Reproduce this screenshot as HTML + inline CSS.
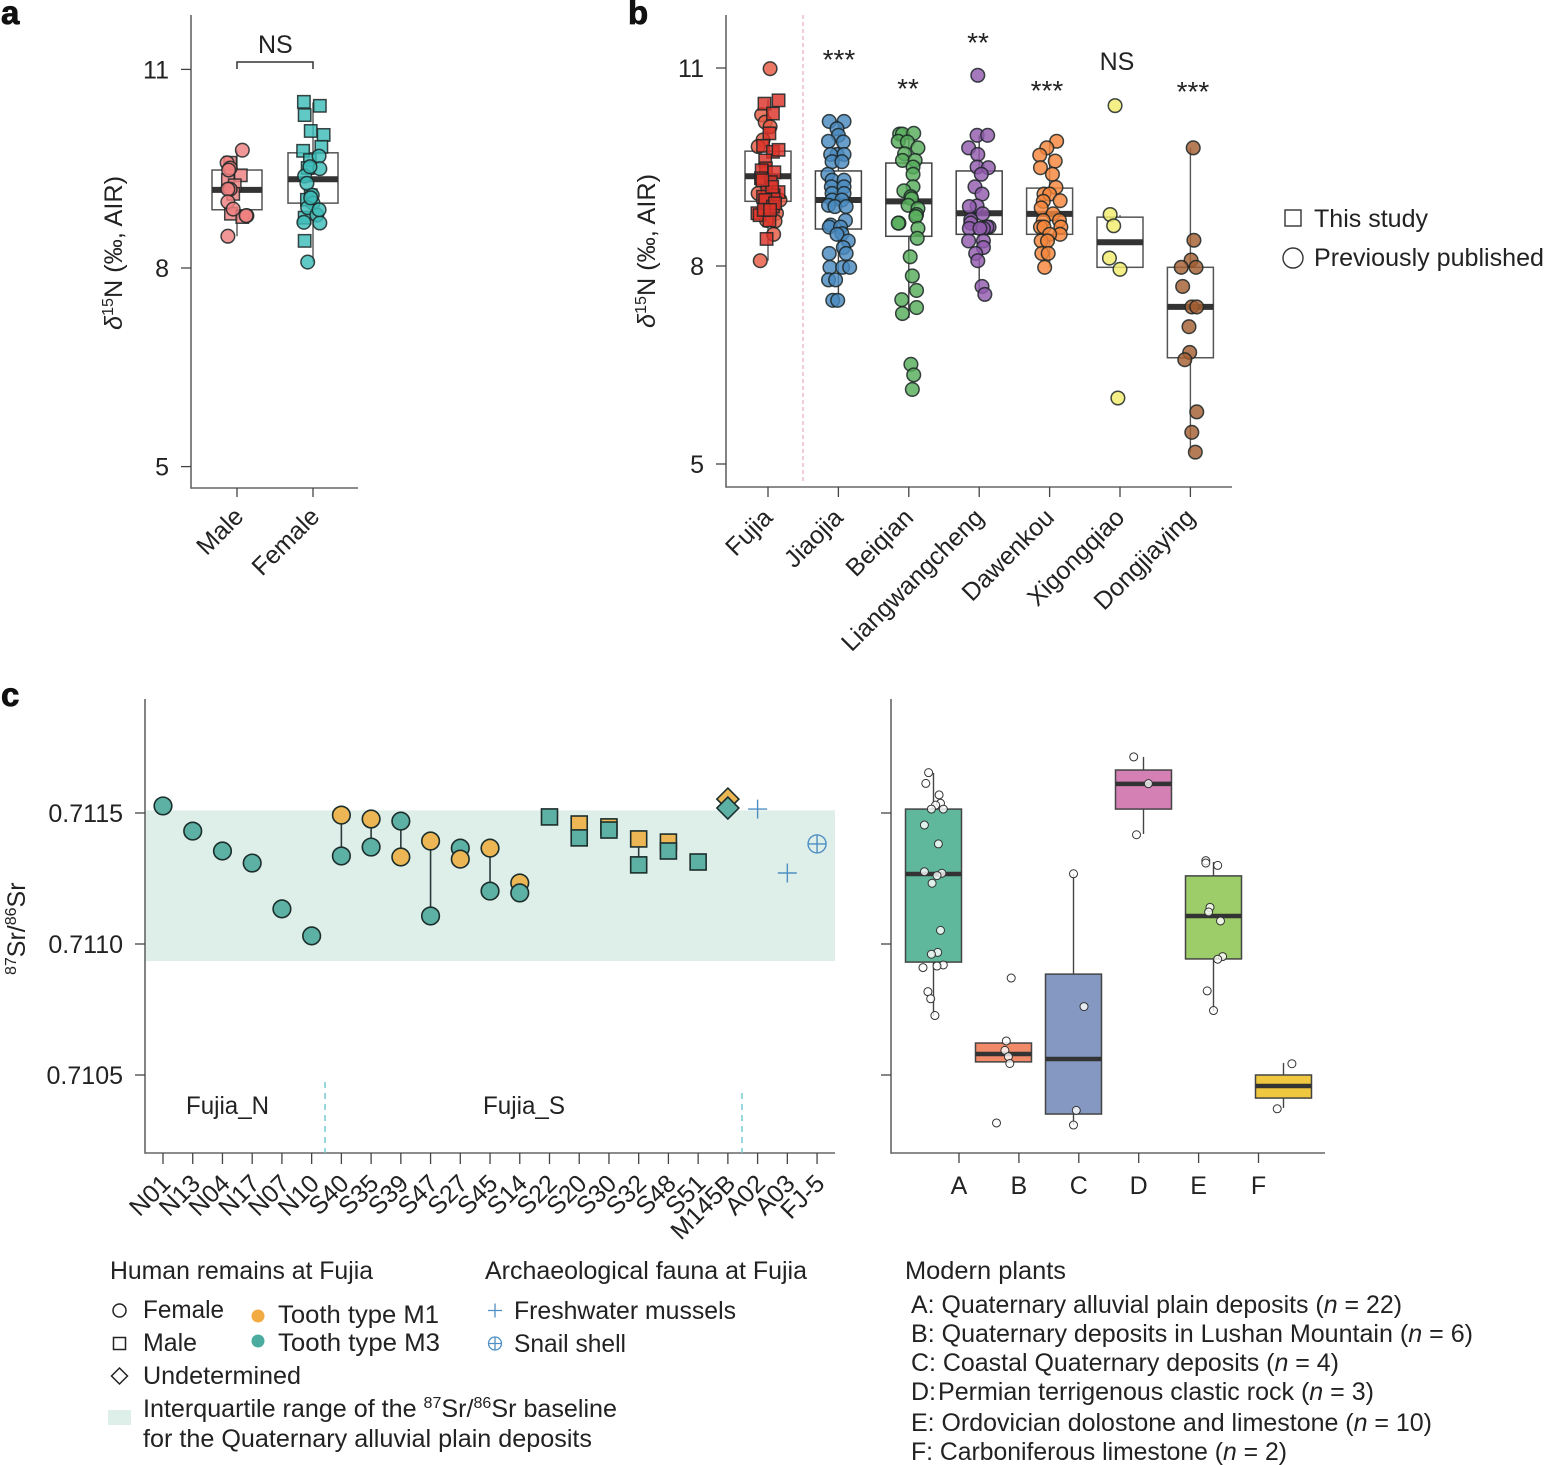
<!DOCTYPE html>
<html lang="en">
<head>
<meta charset="utf-8">
<title>Isotope chart figure</title>
<style>
html,body{margin:0;padding:0;background:#fff;}
svg{display:block;}
text{font-family:"Liberation Sans",sans-serif;font-size:25px;fill:#222;}
.bold{font-weight:bold;font-size:33px;fill:#111;stroke:#111;stroke-width:.8px;}
.stars{font-size:28px;}
</style>
</head>
<body>
<svg id="figure" xmlns="http://www.w3.org/2000/svg" width="1544" height="1465" viewBox="0 0 1544 1465">
  <text class="bold" x="1" y="24">a</text>
  <text class="bold" x="628" y="24">b</text>
  <text class="bold" x="1" y="706">c</text>

  <g id="panel-a"></g>
  <g id="panel-b"></g>
  <g id="panel-c"></g>
  <g id="panel-d"></g>

  <text transform="translate(122,330) rotate(-90)" textLength="154" lengthAdjust="spacingAndGlyphs"><tspan font-style="italic">δ</tspan><tspan font-size="16" dy="-9">15</tspan><tspan dy="9">N (‰, AIR)</tspan></text>
  <text transform="translate(655,328) rotate(-90)" textLength="154" lengthAdjust="spacingAndGlyphs"><tspan font-style="italic">δ</tspan><tspan font-size="16" dy="-9">15</tspan><tspan dy="9">N (‰, AIR)</tspan></text>
  <text transform="translate(25,975) rotate(-90)"><tspan font-size="16" dy="-9">87</tspan><tspan dy="9">Sr/</tspan><tspan font-size="16" dy="-9">86</tspan><tspan dy="9">Sr</tspan></text>

  <text x="258" y="53">NS</text>
  <path d="M237 69V62H313V69" fill="none" stroke="#333" stroke-width="1.5"/>

  <text class="stars" x="839" y="69" text-anchor="middle">***</text>
  <text class="stars" x="908" y="98" text-anchor="middle">**</text>
  <text class="stars" x="978" y="52" text-anchor="middle">**</text>
  <text class="stars" x="1047" y="100" text-anchor="middle">***</text>
  <text x="1117" y="70" text-anchor="middle">NS</text>
  <text class="stars" x="1193" y="101" text-anchor="middle">***</text>

  <rect x="1285" y="210" width="16" height="16" fill="#fff" stroke="#333" stroke-width="1.4"/>
  <text x="1314" y="227" textLength="114" lengthAdjust="spacingAndGlyphs">This study</text>
  <circle cx="1293" cy="258" r="10" fill="#fff" stroke="#333" stroke-width="1.4"/>
  <text x="1314" y="266" textLength="230" lengthAdjust="spacingAndGlyphs">Previously published</text>

  <g>
    <text x="110" y="1279" textLength="263" lengthAdjust="spacingAndGlyphs">Human remains at Fujia</text>
    <circle cx="119.500" cy="1310.500" r="6.500" fill="#fff" stroke="#222" stroke-width="1.500"/>
    <text x="143" y="1318" textLength="81" lengthAdjust="spacingAndGlyphs">Female</text>
    <rect x="113.500" y="1337.500" width="12" height="12" fill="#fff" stroke="#222" stroke-width="1.500"/>
    <text x="143" y="1351" textLength="54" lengthAdjust="spacingAndGlyphs">Male</text>
    <path d="M119.500 1368L127.500 1376L119.500 1384L111.500 1376Z" fill="#fff" stroke="#222" stroke-width="1.500"/>
    <text x="143" y="1384" textLength="158" lengthAdjust="spacingAndGlyphs">Undetermined</text>
    <circle cx="258" cy="1316" r="6.500" fill="#f2ab42"/>
    <text x="278" y="1323" textLength="161" lengthAdjust="spacingAndGlyphs">Tooth type M1</text>
    <circle cx="258" cy="1341" r="6.500" fill="#4cab9f"/>
    <text x="278" y="1351" textLength="162" lengthAdjust="spacingAndGlyphs">Tooth type M3</text>
    <rect x="108" y="1410" width="23" height="15" fill="#deeee8"/>
    <text x="143" y="1417" textLength="474" lengthAdjust="spacingAndGlyphs">Interquartile range of the <tspan font-size="16" dy="-9">87</tspan><tspan dy="9">Sr/</tspan><tspan font-size="16" dy="-9">86</tspan><tspan dy="9">Sr baseline</tspan></text>
    <text x="143" y="1447" textLength="449" lengthAdjust="spacingAndGlyphs">for the Quaternary alluvial plain deposits</text>
  </g>

  <g>
    <text x="485" y="1279" textLength="322" lengthAdjust="spacingAndGlyphs">Archaeological fauna at Fujia</text>
    <path d="M488 1310.500H502M495 1303.500V1317.500" stroke="#4f8fc4" stroke-width="1.300" fill="none"/>
    <text x="514" y="1319" textLength="222" lengthAdjust="spacingAndGlyphs">Freshwater mussels</text>
    <path d="M488 1343.500H502M495 1336.500V1350.500" stroke="#4f8fc4" stroke-width="1.300" fill="none"/>
    <circle cx="495" cy="1343.500" r="6.500" fill="none" stroke="#4f8fc4" stroke-width="1.300"/>
    <text x="514" y="1352" textLength="112" lengthAdjust="spacingAndGlyphs">Snail shell</text>
  </g>

  <g>
    <text x="905" y="1279" textLength="161" lengthAdjust="spacingAndGlyphs">Modern plants</text>
    <text x="911" y="1313" textLength="491" lengthAdjust="spacingAndGlyphs">A: Quaternary alluvial plain deposits (<tspan font-style="italic">n</tspan> = 22)</text>
    <text x="911" y="1342" textLength="562" lengthAdjust="spacingAndGlyphs">B: Quaternary deposits in Lushan Mountain (<tspan font-style="italic">n</tspan> = 6)</text>
    <text x="911" y="1371" textLength="428" lengthAdjust="spacingAndGlyphs">C: Coastal Quaternary deposits (<tspan font-style="italic">n</tspan> = 4)</text>
    <text x="911" y="1400">D:</text>
    <text x="938" y="1400" textLength="436" lengthAdjust="spacingAndGlyphs">Permian terrigenous clastic rock (<tspan font-style="italic">n</tspan> = 3)</text>
    <text x="911" y="1431" textLength="521" lengthAdjust="spacingAndGlyphs">E: Ordovician dolostone and limestone (<tspan font-style="italic">n</tspan> = 10)</text>
    <text x="911" y="1460" textLength="376" lengthAdjust="spacingAndGlyphs">F: Carboniferous limestone (<tspan font-style="italic">n</tspan> = 2)</text>
  </g>
</svg>

<script>
// ---------- Panel a data ----------
const sexCategories = ['Male', 'Female'];
const sexTicks = [5, 8, 11];
const maleBox = [8.48, 8.88, 9.18, 9.48, 9.78];
const femaleBox = [8.09, 8.98, 9.34, 9.74, 10.5];
const maleCircleValues = [9.78, 9.59, 9.51, 9.48, 9.19, 9.19, 9.00, 8.89, 8.79, 8.79, 8.48];
const maleCircleJitter = [.07, -.13, -.09, -.11, -.09, -.12, -.12, -.05, .13, .12, -.12];
const maleSquareValues = [9.40, 9.59, 9.33, 9.25, 9.12, 8.82, 8.77];
const maleSquareJitter = [.05, -.09, -.12, -.03, -.05, -.08, .07];
const femaleSquareValues = [10.51, 10.45, 10.31, 10.07, 10.01, 9.83, 9.77, 9.63, 9.51, 9.10, 9.03, 8.76, 8.41];
const femaleSquareJitter = [-.12, .09, -.11, -.03, .14, .11, -.13, -.04, -.07, -.03, -.08, -.11, -.11];
const femaleCircleValues = [9.69, 9.50, 9.39, 9.28, 9.10, 8.98, 8.91, 8.80, 8.69, 8.68, 8.09, 9.53, 9.06, 8.88];
const femaleCircleJitter = [.08, .09, -.11, -.08, -.01, 0, -.07, .05, -.12, .09, -.07, -.04, -.03, .08];

// ---------- Panel b data ----------
const siteCategories = ['Fujia', 'Jiaojia', 'Beiqian', 'Liangwangcheng', 'Dawenkou', 'Xigongqiao', 'Dongjiaying'];
const siteTicks = [5, 8, 11];
const fujiaBox = [8.08, 8.98, 9.36, 9.74, 10.52];
const jiaojiaBox = [7.48, 8.56, 9.00, 9.44, 10.21];
const beiqianBox = [7.21, 8.45, 8.98, 9.56, 10.02];
const liangBox = [7.59, 8.48, 8.80, 9.44, 9.98];
const dawenkouBox = [7.98, 8.48, 8.79, 9.18, 9.89];
const xigongBox = [7.98, 7.98, 8.36, 8.74, 8.77];
const dongBox = [5.18, 6.61, 7.38, 7.98, 9.79];
const fujiaCircleValues = [10.99, 8.08, 10.29, 10.18, 10.11, 9.91, 9.81, 9.10, 9.00, 8.80, 8.68, 8.69, 8.48];
const fujiaCircleJitter = [.03, -.11, -.09, -.04, .03, -.07, -.14, -.14, .17, .12, .10, -.02, .08];
const fujiaSquareValues = [10.51, 10.46, 10.31, 10.01, 9.82, 9.73, 9.76, 9.60, 9.48, 9.45, 9.42, 9.33, 9.27, 9.12, 9.12, 9.07, 9.05, 9.00, 8.90, 8.80, 8.77, 8.69, 8.41, 9.2, 9.3, 8.95, 8.85, 8.85];
const fujiaSquareJitter = [.15, -.05, .07, .02, -.07, .07, .15, -.04, -.03, -.09, .09, -.10, .04, -.01, .15, .08, -.07, -.04, .07, -.15, -.12, .02, -.02, .06, -.08, .10, -.06, .03];
const jiaojiaValues = [10.19, 10.19, 10.08, 9.98, 9.89, 9.88, 9.69, 9.69, 9.69, 9.58, 9.58, 9.39, 9.30, 9.30, 9.20, 9.20, 9.10, 9.10, 9.00, 9.00, 8.92, 8.90, 8.90, 8.69, 8.62, 8.59, 8.59, 8.49, 8.48, 8.38, 8.28, 8.19, 8.19, 7.98, 7.98, 7.98, 7.79, 7.79, 7.48, 7.48];
const jiaojiaJitter = [-.13, .08, -.02, 0, -.14, .07, -.02, -.11, .08, -.09, .05, -.15, -.09, .08, -.10, .08, -.09, .08, -.09, .05, -.14, -.05, .11, .10, -.11, -.13, .03, .05, -.02, .14, .07, .11, -.13, -.12, .06, .16, -.14, -.04, -.08, -.01];
const beiqianValues = [10.00, 10.00, 10.01, 9.89, 9.88, 9.79, 9.70, 9.60, 9.60, 9.50, 9.39, 9.20, 9.14, 9.05, 9.02, 8.92, 8.87, 8.78, 8.75, 8.65, 8.65, 8.57, 8.42, 8.14, 7.85, 7.63, 7.49, 7.37, 7.28, 6.51, 6.35, 6.13];
const beiqianJitter = [-.13, -.09, .07, -.15, -.02, .13, -.06, -.09, .09, .06, .06, .06, -.07, .03, .04, -.01, .13, .11, .10, -.14, -.15, .13, .12, .02, .05, .11, -.10, .11, -.09, .03, .07, .05];
const liangValues = [10.89, 9.98, 9.98, 9.79, 9.69, 9.50, 9.49, 9.39, 9.20, 9.09, 8.91, 8.90, 8.79, 8.70, 8.65, 8.59, 8.59, 8.57, 8.57, 8.57, 8.38, 8.38, 8.28, 8.19, 8.08, 7.69, 7.57];
const liangJitter = [-.02, -.03, .12, -.15, -.02, -.03, .13, .03, -.06, .04, -.03, -.14, .05, -.12, -.12, .14, .11, -.14, .06, .01, -.15, .06, .06, -.05, -.02, .04, .08];
const dawenkouValues = [9.89, 9.79, 9.68, 9.59, 9.49, 9.39, 9.19, 9.09, 9.09, 8.99, 8.98, 8.88, 8.79, 8.69, 8.69, 8.59, 8.59, 8.59, 8.48, 8.48, 8.38, 8.38, 8.19, 8.19, 7.98];
const dawenkouJitter = [.10, -.04, -.14, .08, -.13, .04, .09, -.08, 0, .15, -.09, -.12, .05, -.09, .14, .16, -.13, -.08, .15, 0, -.12, -.03, -.11, -.02, -.07];
const xigongValues = [10.43, 8.78, 8.61, 8.12, 7.95, 6.00];
const xigongJitter = [-.07, -.14, -.09, -.15, 0, -.03];
const dongValues = [9.79, 8.39, 8.09, 7.98, 7.98, 7.69, 7.38, 7.38, 7.08, 6.69, 6.58, 5.79, 5.48, 5.18];
const dongJitter = [.04, .05, .01, -.13, .08, -.11, .02, .09, -.02, -.01, -.08, .09, .02, .07];

// ---------- Panel c data ----------
const sampleLabels = ['N01', 'N13', 'N04', 'N17', 'N07', 'N10', 'S40', 'S35', 'S39', 'S47', 'S27', 'S45', 'S14', 'S22', 'S20', 'S30', 'S32', 'S48', 'S51', 'M145B', 'A02', 'A03', 'FJ-5'];
const srTicks = [0.7105, 0.7110, 0.7115];
const srTickLabels = ['0.7105', '0.7110', '0.7115'];
const baselineRange = [0.710935, 0.71151];
const toothM1Values = [null, null, null, null, null, null, 0.711492, 0.711477, 0.711332, 0.711393, 0.711324, 0.711366, 0.711233, null, 0.711458, 0.711447, 0.711401, 0.711389, null, 0.711553, null, null, null];
const toothM3Values = [0.711527, 0.711431, 0.711355, 0.711309, 0.711134, 0.711031, 0.711336, 0.711370, 0.711469, 0.711107, 0.711366, 0.711202, 0.711195, 0.711485, 0.711405, 0.711435, 0.711302, 0.711355, 0.711313, 0.711519, null, null, null];
const sampleSex = ['f', 'f', 'f', 'f', 'f', 'f', 'f', 'f', 'f', 'f', 'f', 'f', 'f', 'm', 'm', 'm', 'm', 'm', 'm', 'u', null, null, null];
const musselValues = [null, null, null, null, null, null, null, null, null, null, null, null, null, null, null, null, null, null, null, null, 0.711515, 0.711271, null];
const snailValues = [null, null, null, null, null, null, null, null, null, null, null, null, null, null, null, null, null, null, null, null, null, null, 0.711382];

// ---------- Panel c box data ----------
const plantCategories = ['A', 'B', 'C', 'D', 'E', 'F'];
const plantABox = [0.710725, 0.710931, 0.711267, 0.711515, 0.711653];
const plantBBox = [0.71055, 0.71055, 0.71058, 0.710622, 0.710622];
const plantCBox = [0.710309, 0.710351, 0.710561, 0.710885, 0.711267];
const plantDBox = [0.71142, 0.711515, 0.711611, 0.711664, 0.711714];
const plantEBox = [0.710744, 0.710943, 0.711107, 0.71126, 0.711313];
const plantFBox = [0.710374, 0.710412, 0.710458, 0.7105, 0.710546];
const plantAValues = [0.711654, 0.711613, 0.711569, 0.711537, 0.71153, 0.711515, 0.711515, 0.711454, 0.711382, 0.711276, 0.71127, 0.711261, 0.711232, 0.711052, 0.710968, 0.710961, 0.71092, 0.710916, 0.71091, 0.710818, 0.710791, 0.710727];
const plantAJitter = [-.07, -.11, .08, .10, .03, -.03, .14, -.13, .07, -.13, .12, .05, -.02, .10, .06, -.03, .14, .05, -.15, -.08, -.04, .02];
const plantBValues = [0.71087, 0.71063, 0.710594, 0.71057, 0.710544, 0.710317];
const plantBJitter = [.11, .04, .02, .07, .09, -.10];
const plantCValues = [0.711268, 0.710761, 0.710365, 0.710309];
const plantCJitter = [0, .15, .04, 0];
const plantDValues = [0.711714, 0.711612, 0.711417];
const plantDJitter = [-.14, .07, -.10];
const plantEValues = [0.711318, 0.711309, 0.7113, 0.71114, 0.711122, 0.711088, 0.710952, 0.710942, 0.710821, 0.710746];
const plantEJitter = [-.11, -.11, .06, -.05, -.07, .10, .13, .06, -.09, 0];
const plantFValues = [0.710543, 0.710371];
const plantFJitter = [.12, -.09];

// ---------- Axis functions ----------
const yA = v => 268 - (v - 8) * 66.2;
const yB = v => 266 - (v - 8) * 66;
const yC = v => 944 - (v - 0.711) * 262000;
const xA = i => 237 + 76 * i;
const xB = i => 768 + 70.4 * i;
const xC = i => 163 + 29.73 * i;
const xBox = i => 933.5 + 70 * i;
const xPlantTick = i => 959 + 59.9 * i;

const NS = 'http://www.w3.org/2000/svg';
function make(parent, tag, attrs, txt) {
  const el = document.createElementNS(NS, tag);
  for (const k in attrs) el.setAttribute(k, attrs[k]);
  if (txt !== undefined) el.textContent = txt;
  parent.appendChild(el);
  return el;
}
function line(parent, x1, y1, x2, y2, stroke, w, name) {
  const el = make(parent, 'line', {x1: x1, y1: y1, x2: x2, y2: y2, stroke: stroke, 'stroke-width': w});
  
  
  return el;
}
function axes(parent, x0, yTop, yBot, xEnd, prefix) {
  line(parent, x0, yTop, x0, yBot + .7, '#666', 1.6, prefix + '-y-axis');
  line(parent, x0, yBot, xEnd, yBot, '#666', 1.6, prefix + '-x-axis');
}
function yTicks(parent, ticks, labels, yFn, x0, prefix) {
  ticks.forEach((t, i) => {
    line(parent, x0 - 10, yFn(t), x0, yFn(t), '#444', 1.3, prefix + '-y-tick');
    if (labels) {
      const lab = make(parent, 'text', {x: x0 - 22, y: yFn(t) + 9, 'text-anchor': 'end'}, labels[i]);
      
      
    }
  });
}
function xRotTicks(parent, cats, xFn, yAxis, tickLen, dx, dy, prefix) {
  cats.forEach((c, i) => {
    line(parent, xFn(i), yAxis, xFn(i), yAxis + tickLen, '#444', 1.3, prefix + '-x-tick');
    const lab = make(parent, 'text', {'text-anchor': 'end', transform: `translate(${xFn(i) + dx},${yAxis + dy}) rotate(-45)`}, c);
    
    
  });
}
function box(parent, stats, cx, halfW, yFn, fill, medW, edge, name) {
  const [lo, q1, med, q3, hi] = stats;
  line(parent, cx, yFn(hi), cx, yFn(q3), edge, 1.4, name + '-whisker-high');
  line(parent, cx, yFn(q1), cx, yFn(lo), edge, 1.4, name + '-whisker-low');
  const r = make(parent, 'rect', {x: cx - halfW, y: yFn(q3), width: halfW * 2, height: yFn(q1) - yFn(q3), fill: fill, stroke: edge, 'stroke-width': 1.5});
  
  
  line(parent, cx - halfW, yFn(med), cx + halfW, yFn(med), '#333', medW, name + '-median');
}
function dots(parent, values, jitter, cx, spacing, yFn, shape, fill, name) {
  values.forEach((v, i) => {
    const x = cx + jitter[i] * spacing, y = yFn(v);
    let el;
    if (shape === 's') {
      el = make(parent, 'rect', {x: x - 6.2, y: y - 6.2, width: 12.4, height: 12.4, fill: fill, 'fill-opacity': .82, stroke: '#1c2626', 'stroke-width': 1.5, 'stroke-opacity': .85});
    } else {
      el = make(parent, 'circle', {cx: x, cy: y, r: 6.8, fill: fill, 'fill-opacity': .82, stroke: '#1c2626', 'stroke-width': 1.5, 'stroke-opacity': .85});
    }
    
    
  });
}

// ---------- Panel a ----------
const pa = document.getElementById('panel-a');
axes(pa, 191, 15, 488, 358, 'panel-a');
yTicks(pa, sexTicks, sexTicks.map(String), yA, 191, 'panel-a');
xRotTicks(pa, sexCategories, xA, 488, 9, 8, 30, 'panel-a');
box(pa, maleBox, xA(0), 25, yA, '#fff', 6, '#555', 'male');
box(pa, femaleBox, xA(1), 25, yA, '#fff', 6, '#555', 'female');
dots(pa, maleSquareValues, maleSquareJitter, xA(0), 76, yA, 's', '#ef8080', 'male-study-point');
dots(pa, maleCircleValues, maleCircleJitter, xA(0), 76, yA, 'c', '#ef8080', 'male-published-point');
dots(pa, femaleSquareValues, femaleSquareJitter, xA(1), 76, yA, 's', '#3dbcb8', 'female-study-point');
dots(pa, femaleCircleValues, femaleCircleJitter, xA(1), 76, yA, 'c', '#3dbcb8', 'female-published-point');

// ---------- Panel b ----------
const pb = document.getElementById('panel-b');
axes(pb, 726, 15, 487, 1232, 'panel-b');
yTicks(pb, siteTicks, siteTicks.map(String), yB, 726, 'panel-b');
xRotTicks(pb, siteCategories, xB, 487, 10, 6, 32, 'panel-b');
const divider = make(pb, 'line', {x1: 803, y1: 15, x2: 803, y2: 483, stroke: '#eeb6c4', 'stroke-width': 1.4, 'stroke-dasharray': '4 3'});


box(pb, fujiaBox, xB(0), 23, yB, '#fff', 6, '#555', 'fujia');
box(pb, jiaojiaBox, xB(1), 23, yB, '#fff', 6, '#444', 'jiaojia');
box(pb, beiqianBox, xB(2), 23, yB, '#fff', 6, '#444', 'beiqian');
box(pb, liangBox, xB(3), 23, yB, '#fff', 6, '#444', 'liangwangcheng');
box(pb, dawenkouBox, xB(4), 23, yB, '#fff', 6, '#555', 'dawenkou');
box(pb, xigongBox, xB(5), 23, yB, '#fff', 6, '#555', 'xigongqiao');
box(pb, dongBox, xB(6), 23, yB, '#fff', 6, '#555', 'dongjiaying');
dots(pb, fujiaCircleValues, fujiaCircleJitter, xB(0), 70.4, yB, 'c', '#e65a42', 'fujia-published-point');
dots(pb, fujiaSquareValues, fujiaSquareJitter, xB(0), 70.4, yB, 's', '#dc3228', 'fujia-study-point');
dots(pb, jiaojiaValues, jiaojiaJitter, xB(1), 70.4, yB, 'c', '#4a8ac0', 'jiaojia-point');
dots(pb, beiqianValues, beiqianJitter, xB(2), 70.4, yB, 'c', '#58ad5c', 'beiqian-point');
dots(pb, liangValues, liangJitter, xB(3), 70.4, yB, 'c', '#935cae', 'liangwangcheng-point');
dots(pb, dawenkouValues, dawenkouJitter, xB(4), 70.4, yB, 'c', '#f5853a', 'dawenkou-point');
dots(pb, xigongValues, xigongJitter, xB(5), 70.4, yB, 'c', '#f2ec6c', 'xigongqiao-point');
dots(pb, dongValues, dongJitter, xB(6), 70.4, yB, 'c', '#a45f32', 'dongjiaying-point');

// ---------- Panel c scatter ----------
const pc = document.getElementById('panel-c');
const band = make(pc, 'rect', {x: 145, y: yC(baselineRange[1]), width: 690, height: yC(baselineRange[0]) - yC(baselineRange[1]), fill: '#deeee8'});


axes(pc, 145, 699, 1153, 835, 'panel-c');
yTicks(pc, srTicks, srTickLabels, yC, 145, 'panel-c');
xRotTicks(pc, sampleLabels, xC, 1153, 11, 9, 32, 'panel-c');
[[325, 1082], [742, 1093]].forEach(d => {
  const dl = make(pc, 'line', {x1: d[0], y1: d[1], x2: d[0], y2: 1153, stroke: '#6cc6d0', 'stroke-width': 1.4, 'stroke-dasharray': '6 5'});
  
  
});
const lN = make(pc, 'text', {x: 186, y: 1114, textLength: 83, lengthAdjust: 'spacingAndGlyphs'}, 'Fujia_N');


const lS = make(pc, 'text', {x: 483, y: 1114, textLength: 82, lengthAdjust: 'spacingAndGlyphs'}, 'Fujia_S');



function toothMark(i, v, fill, name) {
  const x = xC(i), y = yC(v), sex = sampleSex[i];
  const st = {fill: fill, stroke: '#1c2e2c', 'stroke-width': 1.6};
  let el;
  if (sex === 'f') el = make(pc, 'circle', Object.assign({cx: x, cy: y, r: 8.8}, st));
  else if (sex === 'm') el = make(pc, 'rect', Object.assign({x: x - 8, y: y - 8, width: 16, height: 16}, st));
  else el = make(pc, 'path', Object.assign({d: `M${x} ${y - 11}L${x + 11} ${y}L${x} ${y + 11}L${x - 11} ${y}Z`}, st));
  
  
}
sampleLabels.forEach((s, i) => {
  const a = toothM1Values[i], b = toothM3Values[i];
  if (a !== null && b !== null) line(pc, xC(i), yC(a), xC(i), yC(b), '#2b3b3b', 1.6, 'pair-connector-' + s);
});
sampleLabels.forEach((s, i) => {
  const a = toothM1Values[i], b = toothM3Values[i];
  if (a !== null && (b === null || a >= b)) {
    toothMark(i, a, '#ecb654', 'tooth-m1-' + s);
    if (b !== null) toothMark(i, b, '#5cb0a4', 'tooth-m3-' + s);
  } else if (b !== null) {
    toothMark(i, b, '#5cb0a4', 'tooth-m3-' + s);
    if (a !== null) toothMark(i, a, '#ecb654', 'tooth-m1-' + s);
  }
  const m = musselValues[i];
  if (m !== null) {
    const p = make(pc, 'path', {d: `M${xC(i) - 9.5} ${yC(m)}H${xC(i) + 9.5}M${xC(i)} ${yC(m) - 9.5}V${yC(m) + 9.5}`, stroke: '#4f8fc4', 'stroke-width': 1.4, fill: 'none'});
    
    
  }
  const sn = snailValues[i];
  if (sn !== null) {
    const p = make(pc, 'path', {d: `M${xC(i) - 9} ${yC(sn)}H${xC(i) + 9}M${xC(i)} ${yC(sn) - 9}V${yC(sn) + 9}`, stroke: '#4f8fc4', 'stroke-width': 1.4, fill: 'none'});
    
    
    const c = make(pc, 'circle', {cx: xC(i), cy: yC(sn), r: 9, fill: 'none', stroke: '#4f8fc4', 'stroke-width': 1.4});
    
    
  }
});

// ---------- Panel c boxes ----------
const pd = document.getElementById('panel-d');
axes(pd, 891, 699, 1153, 1325, 'plants');
yTicks(pd, srTicks, null, yC, 891, 'plants');
plantCategories.forEach((c, i) => {
  line(pd, xPlantTick(i), 1153, xPlantTick(i), 1163, '#444', 1.3, 'plants-x-tick');
  const lab = make(pd, 'text', {x: xPlantTick(i), y: 1194, 'text-anchor': 'middle'}, c);
  
  
});
const plantBoxes = [plantABox, plantBBox, plantCBox, plantDBox, plantEBox, plantFBox];
const plantFills = ['#5fb89c', '#f08a68', '#8498c2', '#d480b4', '#9ccd68', '#f0c840'];
const plantPoints = [plantAValues, plantBValues, plantCValues, plantDValues, plantEValues, plantFValues];
const plantJitters = [plantAJitter, plantBJitter, plantCJitter, plantDJitter, plantEJitter, plantFJitter];
plantBoxes.forEach((st, i) => {
  box(pd, st, xBox(i), 28, yC, plantFills[i], 4.5, '#444', 'plant-' + plantCategories[i]);
});
plantPoints.forEach((vals, i) => {
  vals.forEach((v, j) => {
    const c = make(pd, 'circle', {cx: xBox(i) + plantJitters[i][j] * 70, cy: yC(v), r: 4, fill: '#fff', 'fill-opacity': .8, stroke: '#333', 'stroke-width': 1});
    
    
  });
});
</script>
</body>
</html>
